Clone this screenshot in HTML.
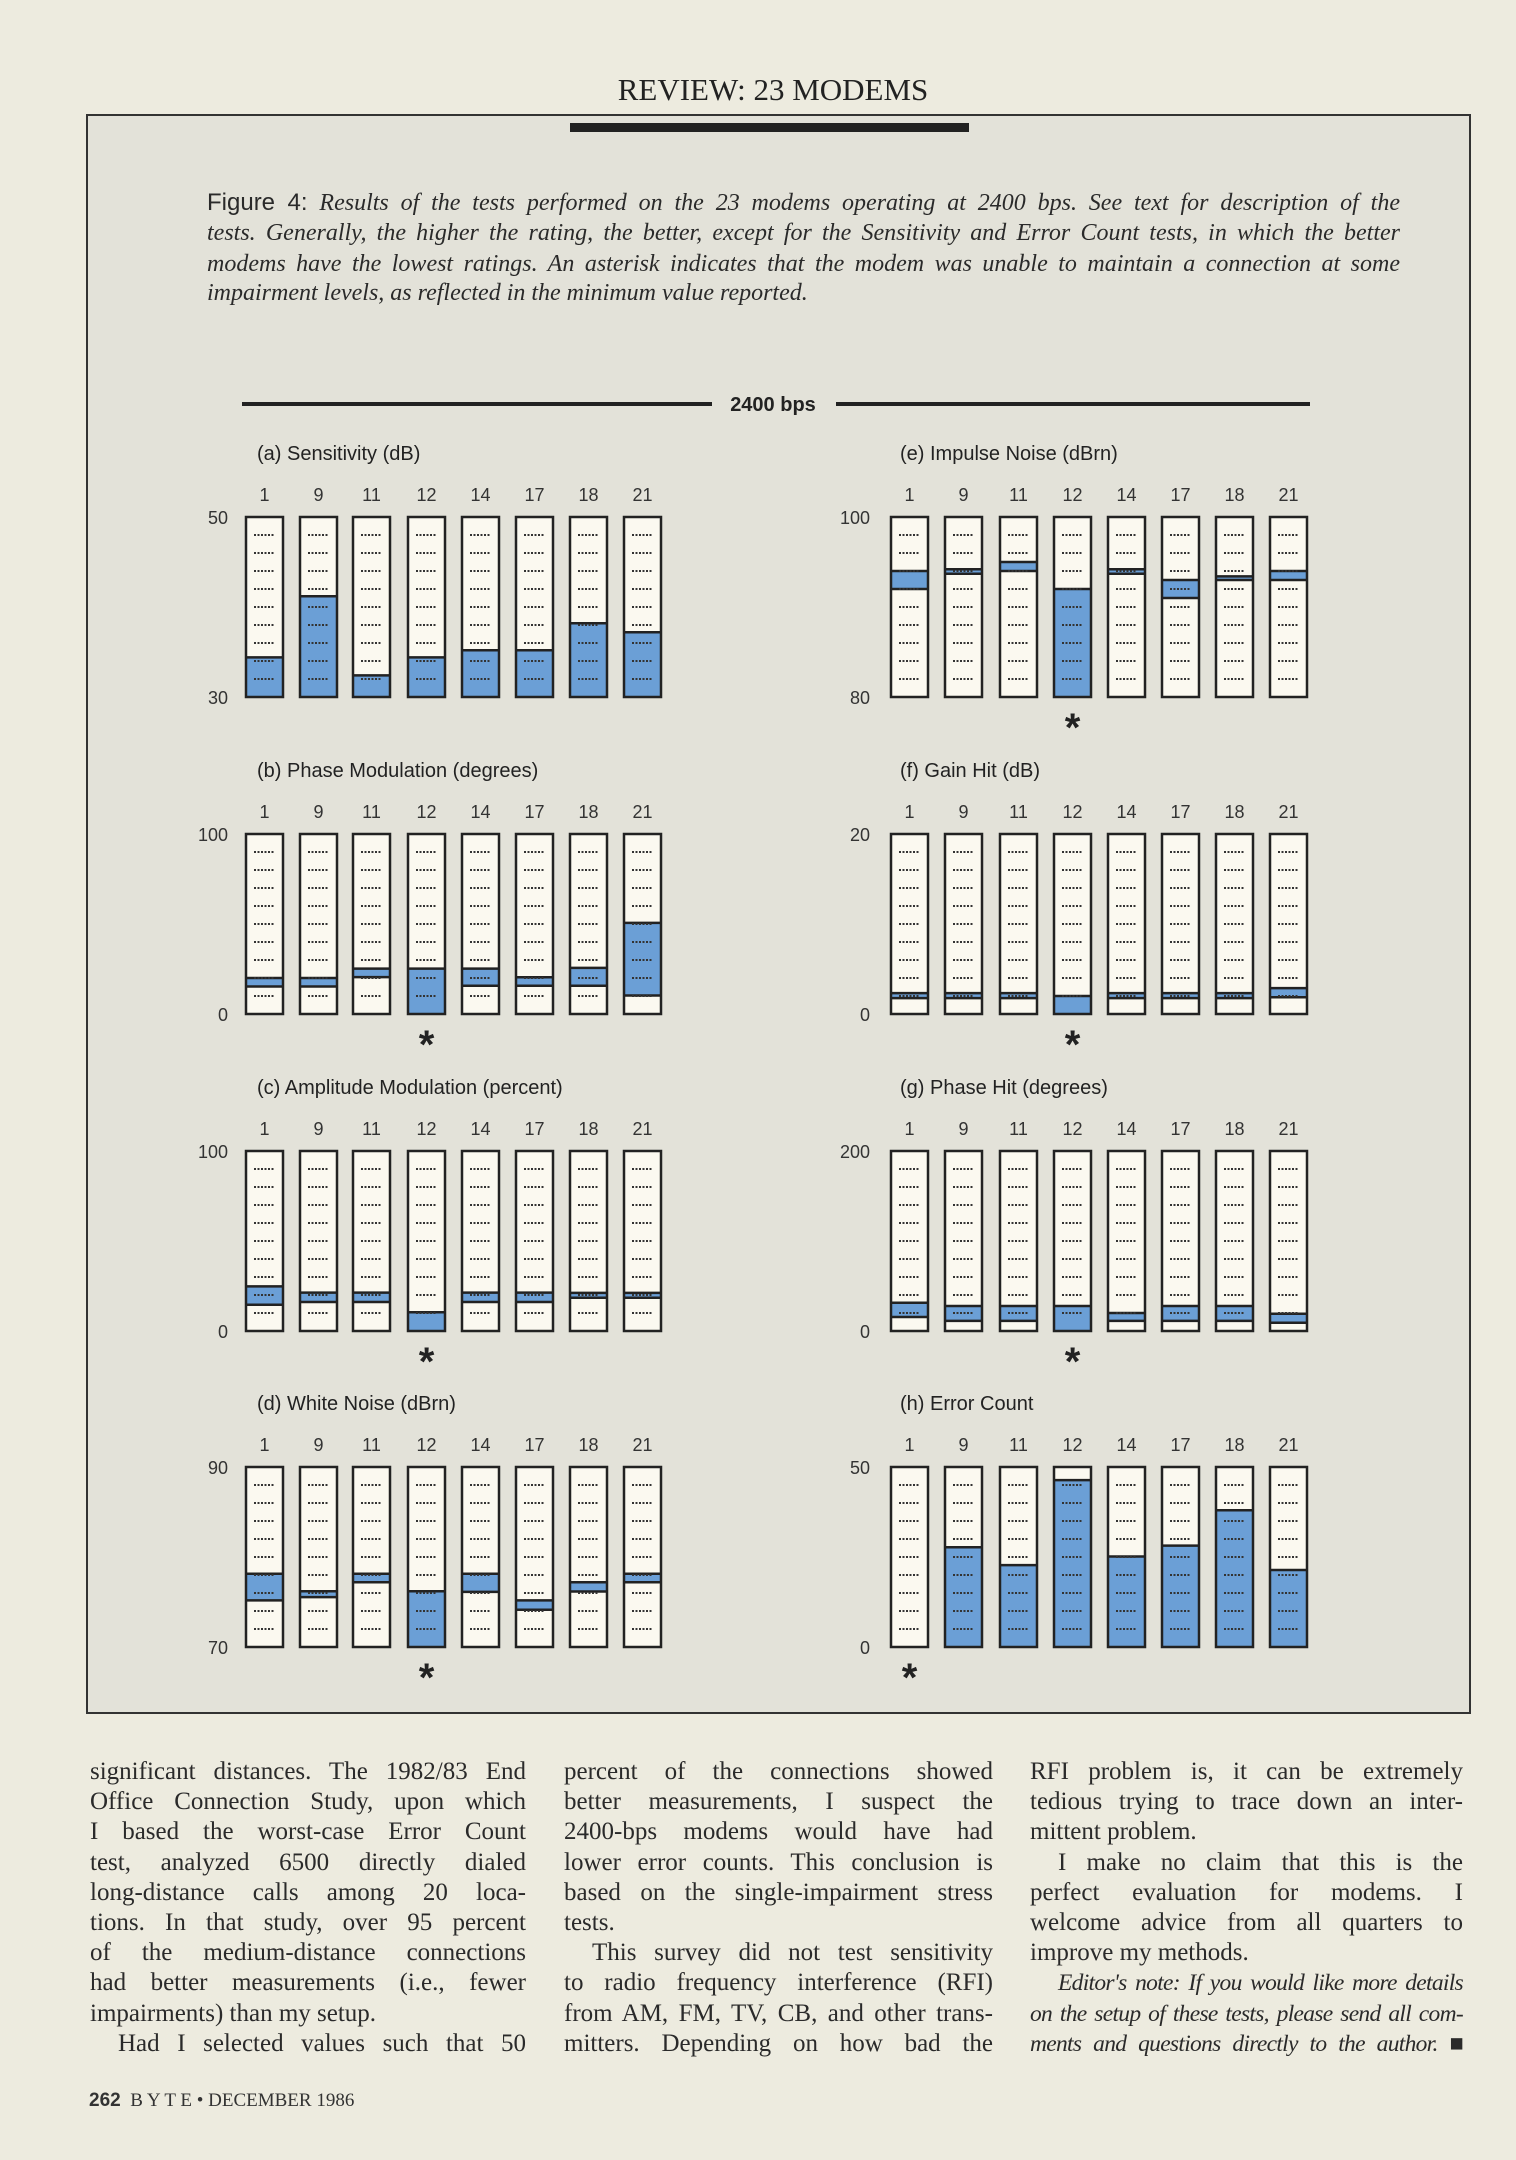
<!DOCTYPE html>
<html><head><meta charset="utf-8">
<style>
html,body{margin:0;padding:0}
body{width:1516px;height:2160px;background:#edebdf;position:relative;overflow:hidden;font-family:"Liberation Serif",serif;color:#222}
#chart{position:absolute;left:0;top:0}
.cap{position:absolute;left:207px;width:1193px;font-family:"Liberation Serif",serif;font-style:italic;font-size:24px;white-space:nowrap;text-align:justify;text-align-last:justify;line-height:30px;color:#2a2a2a}
.col{position:absolute;width:436px;font-size:25px;line-height:30.2px;color:#2a2a2a}
.col div{white-space:nowrap;text-align:justify;text-align-last:justify;height:30.2px}
.col div.l{text-align-last:left}
.col div.i{text-indent:28px}
.col div.it{font-style:italic;font-size:23.5px;letter-spacing:-0.7px}
</style></head><body>
<svg id="chart" width="1516" height="2160" xmlns="http://www.w3.org/2000/svg"></svg>
<div class="cap" style="top:188px"><span style="font-family:'Liberation Sans',sans-serif;font-style:normal;font-size:24px">Figure 4:</span> Results of the tests performed on the 23 modems operating at 2400 bps. See text for description of the</div>
<div class="cap" style="top:218px">tests. Generally, the higher the rating, the better, except for the Sensitivity and Error Count tests, in which the better</div>
<div class="cap" style="top:249px">modems have the lowest ratings. An asterisk indicates that the modem was unable to maintain a connection at some</div>
<div class="cap" style="top:278px;text-align-last:left">impairment levels, as reflected in the minimum value reported.</div>

<div class="col" style="left:90px;top:1757px">
<div>significant distances. The 1982/83 End</div>
<div>Office Connection Study, upon which</div>
<div>I based the worst-case Error Count</div>
<div>test, analyzed 6500 directly dialed</div>
<div>long-distance calls among 20 loca-</div>
<div>tions. In that study, over 95 percent</div>
<div>of the medium-distance connections</div>
<div>had better measurements (i.e., fewer</div>
<div class="l">impairments) than my setup.</div>
<div class="i">Had I selected values such that 50</div>
</div>
<div class="col" style="left:564px;top:1757px;width:429px">
<div>percent of the connections showed</div>
<div>better measurements, I suspect the</div>
<div>2400-bps modems would have had</div>
<div>lower error counts. This conclusion is</div>
<div>based on the single-impairment stress</div>
<div class="l">tests.</div>
<div class="i">This survey did not test sensitivity</div>
<div>to radio frequency interference (RFI)</div>
<div>from AM, FM, TV, CB, and other trans-</div>
<div>mitters. Depending on how bad the</div>
</div>
<div class="col" style="left:1030px;top:1757px;width:433px">
<div>RFI problem is, it can be extremely</div>
<div>tedious trying to trace down an inter-</div>
<div class="l">mittent problem.</div>
<div class="i">I make no claim that this is the</div>
<div>perfect evaluation for modems. I</div>
<div>welcome advice from all quarters to</div>
<div class="l">improve my methods.</div>
<div class="i it">Editor's note: If you would like more details</div>
<div class="it">on the setup of these tests, please send all com-</div>
<div class="it">ments and questions directly to the author. <span style="font-style:normal">■</span></div>
</div>
<div style="position:absolute;left:89px;top:2090px;font-size:19px;color:#333"><b style="font-family:'Liberation Sans',sans-serif">262</b>&nbsp;&nbsp;B Y T E • DECEMBER 1986</div>

<script>
var s=document.getElementById('chart');var h='';
h+='<text x="773" y="100" text-anchor="middle" font-family="Liberation Serif" font-size="31" fill="#222">REVIEW: 23 MODEMS</text>';
h+='<rect x="87" y="115" width="1383" height="1598" fill="#e3e2d9" stroke="#333" stroke-width="2"/>';
h+='<rect x="570" y="123" width="399" height="9" fill="#222"/>';
h+='<rect x="242" y="402" width="470" height="4" fill="#222"/><rect x="836" y="402" width="474" height="4" fill="#222"/>';
h+='<text x="773" y="411" text-anchor="middle" font-family="Liberation Sans" font-weight="bold" font-size="20" fill="#222">2400 bps</text>';
var L=[246,300,353,408,462,516,570,624],R=[891,945,1000,1054,1108,1162,1216,1270];
var nums=[1,9,11,12,14,17,18,21];
var tops=[517,834,1151,1467];
var panels=[
 {c:0,r:0,t:'(a) Sensitivity (dB)',y:['50','30'],d:[[0,.22],[0,.56],[0,.12],[0,.22],[0,.26],[0,.26],[0,.41],[0,.36]],a:-1},
 {c:0,r:1,t:'(b) Phase Modulation (degrees)',y:['100','0'],d:[[.153,.2],[.153,.2],[.205,.252],[0,.252],[.157,.252],[.157,.204],[.157,.256],[.103,.506]],a:3},
 {c:0,r:2,t:'(c) Amplitude Modulation (percent)',y:['100','0'],d:[[.146,.248],[.161,.213],[.161,.213],[0,.104],[.161,.213],[.161,.213],[.185,.212],[.185,.212]],a:3},
 {c:0,r:3,t:'(d) White Noise (dBrn)',y:['90','70'],d:[[.259,.407],[.277,.31],[.36,.407],[0,.31],[.306,.407],[.207,.259],[.308,.36],[.36,.407]],a:3},
 {c:1,r:0,t:'(e) Impulse Noise (dBrn)',y:['100','80'],d:[[.6,.7],[.685,.71],[.7,.75],[0,.6],[.685,.71],[.55,.65],[.65,.67],[.65,.7]],a:3},
 {c:1,r:1,t:'(f) Gain Hit (dB)',y:['20','0'],d:[[.088,.116],[.088,.116],[.088,.116],[0,.1],[.088,.116],[.088,.116],[.088,.116],[.093,.144]],a:3},
 {c:1,r:2,t:'(g) Phase Hit (degrees)',y:['200','0'],d:[[.078,.157],[.056,.139],[.056,.139],[0,.139],[.056,.1],[.056,.139],[.056,.139],[.046,.096]],a:3},
 {c:1,r:3,t:'(h) Error Count',y:['50','0'],d:[null,[0,.554],[0,.455],[0,.927],[0,.503],[0,.563],[0,.76],[0,.428]],a:0}
];
var H=180,W=37;
panels.forEach(function(p){
 var xs=p.c?R:L,top=tops[p.r],bot=top+H;
 var tx=p.c?900:257, yr=p.c?870:228;
 h+='<text x="'+tx+'" y="'+(top-57)+'" font-family="Liberation Sans" font-size="20" fill="#222">'+p.t+'</text>';
 h+='<text x="'+yr+'" y="'+(top+7)+'" text-anchor="end" font-family="Liberation Sans" font-size="18" fill="#333">'+p.y[0]+'</text>';
 h+='<text x="'+yr+'" y="'+(bot+7)+'" text-anchor="end" font-family="Liberation Sans" font-size="18" fill="#333">'+p.y[1]+'</text>';
 xs.forEach(function(x,i){
  h+='<text x="'+(x+W/2)+'" y="'+(top-16)+'" text-anchor="middle" font-family="Liberation Sans" font-size="18" fill="#333">'+nums[i]+'</text>';
  h+='<rect x="'+x+'" y="'+top+'" width="'+W+'" height="'+H+'" fill="#fbf9f0"/>';
  var d=p.d[i];
  if(d){var y1=bot-d[1]*H,y0=bot-d[0]*H;
   h+='<rect x="'+x+'" y="'+y1+'" width="'+W+'" height="'+(y0-y1)+'" fill="#6b9fd6"/>';
   h+='<line x1="'+x+'" x2="'+(x+W)+'" y1="'+y1+'" y2="'+y1+'" stroke="#222" stroke-width="2.5"/>';
   if(d[0]>0)h+='<line x1="'+x+'" x2="'+(x+W)+'" y1="'+y0+'" y2="'+y0+'" stroke="#222" stroke-width="2.5"/>';
  }
  for(var k=1;k<10;k++){var yy=top+k*H/10;
   h+='<line x1="'+(x+8)+'" x2="'+(x+W-8)+'" y1="'+yy+'" y2="'+yy+'" stroke="#333" stroke-width="2" stroke-dasharray="2,1.5"/>';}
  h+='<rect x="'+x+'" y="'+top+'" width="'+W+'" height="'+H+'" fill="none" stroke="#222" stroke-width="2.5"/>';
  if(i===p.a)h+='<text x="'+(x+W/2)+'" y="'+(bot+44)+'" text-anchor="middle" font-family="Liberation Sans" font-weight="bold" font-size="40" fill="#222">*</text>';
 });
});
s.innerHTML=h;
</script>
</body></html>
